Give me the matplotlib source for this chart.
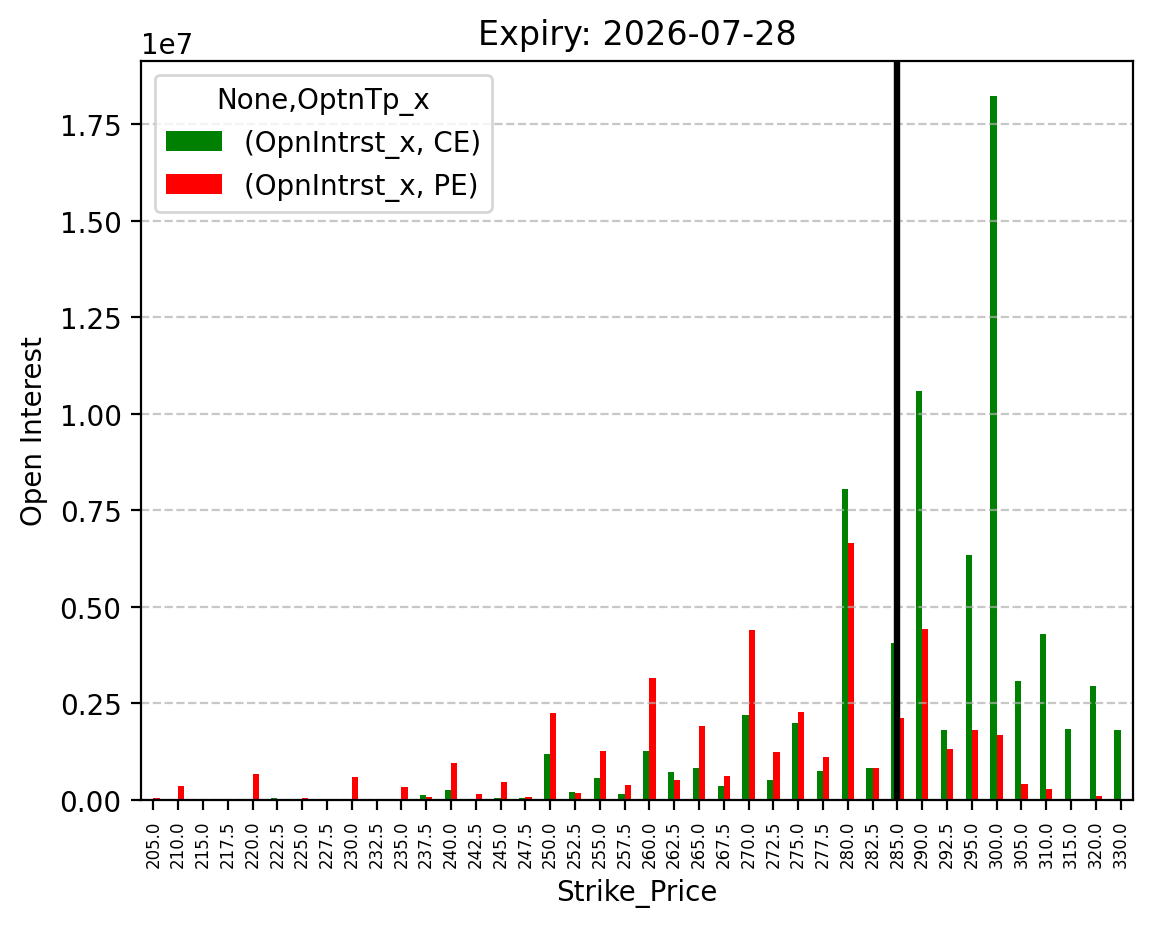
import numpy as np
import pandas as pd
import matplotlib
matplotlib.use("Agg")
import matplotlib.pyplot as plt

strikes = [205.0, 210.0, 215.0, 217.5, 220.0, 222.5, 225.0, 227.5, 230.0, 232.5,
           235.0, 237.5, 240.0, 242.5, 245.0, 247.5, 250.0, 252.5, 255.0, 257.5,
           260.0, 262.5, 265.0, 267.5, 270.0, 272.5, 275.0, 277.5, 280.0, 282.5,
           285.0, 290.0, 292.5, 295.0, 300.0, 305.0, 310.0, 315.0, 320.0, 330.0]

ce_oi = [0, 17000, 0, 0, 0, 44000, 0, 0, 17000, 0,
         0, 121000, 250000, 0, 44000, 52000, 1190000, 208000, 571000, 156000,
         1270000, 727000, 830000, 363000, 2210000, 519000, 2000000, 753000, 8050000, 830000,
         4060000, 10600000, 1800000, 6330000, 18220000, 3070000, 4290000, 1850000, 2960000, 1800000]

pe_oi = [45000, 360000, 0, 0, 670000, 0, 44000, 0, 590000, 0,
         330000, 69000, 950000, 147000, 458000, 78000, 2260000, 182000, 1270000, 389000,
         3170000, 519000, 1920000, 623000, 4390000, 1250000, 2280000, 1120000, 6640000, 830000,
         2130000, 4430000, 1330000, 1800000, 1670000, 421000, 297000, 37000, 111000, 0]

expiry = "2026-07-28"
spot_strike = 285.0

cols = pd.MultiIndex.from_tuples([("OpnIntrst_x", "CE"), ("OpnIntrst_x", "PE")],
                                 names=[None, "OptnTp_x"])
df = pd.DataFrame(np.column_stack([ce_oi, pe_oi]), columns=cols,
                  index=pd.Index(strikes, name="Strike_Price"))

fig, ax = plt.subplots(figsize=(5.76, 4.645), dpi=200)
df.plot(kind="bar", ax=ax, color=["green", "red"])
ax.axvline(strikes.index(spot_strike), color="black", linewidth=2.3)
ax.set_title(f"Expiry: {expiry}")
ax.set_ylabel("Open Interest")
ax.set_xlabel("Strike_Price")
ax.tick_params(axis="x", labelsize=6)
ax.grid(axis="y", linestyle="--", alpha=0.7)
fig.subplots_adjust(left=0.1224, right=0.9835, top=0.9333, bottom=0.1378)
fig.savefig("out.png", dpi=200)
